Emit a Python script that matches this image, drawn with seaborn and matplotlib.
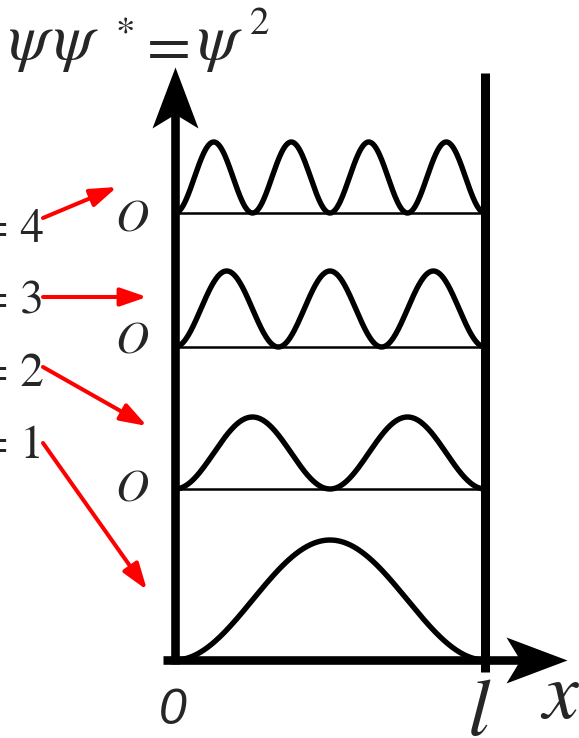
import numpy as np
import pandas as pd
import matplotlib
matplotlib.use("Agg")
import matplotlib.pyplot as plt
from matplotlib.path import Path
import seaborn as sns

sns.set_theme(style="white")

# ---- data ----
quantum_numbers = [1, 2, 3, 4]
baselines = [0, 171, 313, 447]          # vertical offset of each curve (px above x axis)
peak_heights = [120, 72, 76, 71]        # height of the |psi|^2 humps
level_labels = ["= 1", "= 2", "= 3", "= 4"]

W, H = 579, 738
fig = plt.figure(figsize=(W / 100, H / 100), dpi=100)
ax = fig.add_axes([0, 0, 1, 1])
X0, XL, Y0 = 175, 310, 660
ax.set_xlim(-X0 / XL, (W - X0) / XL)
ax.set_ylim(Y0 - H, Y0)
ax.axis("off")


def P(px, py):
    return (px - X0) / XL, Y0 - py


# probability densities psi^2 = sin^2(n pi x / l)
xs = np.linspace(0, 1, 400)
frames = []
for n, b, a in zip(quantum_numbers, baselines, peak_heights):
    frames.append(pd.DataFrame({"x": xs, "y": b + a * np.sin(n * np.pi * xs) ** 2, "n": n}))
df = pd.concat(frames, ignore_index=True)

# baselines of the excited states
ax.hlines(baselines[1:], 0, 1, color="black", lw=1.8, zorder=2)
sns.lineplot(data=df, x="x", y="y", units="n", estimator=None, color="black",
             lw=3.9, ax=ax, legend=False, zorder=3)

# axes and right wall
ax.plot([0, 0], [-4, 560], color="black", lw=6.2, solid_capstyle="butt", zorder=4)
ax.plot([-0.039, 1.22], [0, 0], color="black", lw=6.2, solid_capstyle="butt", zorder=4)
ax.plot([1, 1], [-12, 587], color="black", lw=6.5, solid_capstyle="butt", zorder=4)

up_head = Path([(0, 0), (-23, -61), (0, -47), (23, -61), (0, 0)],
               [Path.MOVETO, Path.LINETO, Path.LINETO, Path.LINETO, Path.CLOSEPOLY])
right_head = Path([(0, 0), (-61, 23), (-47, 0), (-61, -23), (0, 0)],
                  [Path.MOVETO, Path.LINETO, Path.LINETO, Path.LINETO, Path.CLOSEPOLY])
ms = 2 * 61 * 0.72
ax.plot(*P(175, 67), marker=up_head, ms=ms, color="black", mew=0, zorder=5)
ax.plot(*P(567, 660), marker=right_head, ms=ms, color="black", mew=0, zorder=5)

# title  ψψ* = ψ²
serif = "STIXGeneral"
ax.text(*P(8, 59), "ψ", fontsize=47, family=serif, style="italic", va="baseline", ha="left")
ax.text(*P(53, 59), "ψ", fontsize=47, family=serif, style="italic", va="baseline", ha="left")
ax.text(*P(125, 45), "*", fontsize=28, family=serif, va="baseline", ha="center")
ax.text(*P(169, 66), "=", fontsize=46, family=serif, va="baseline", ha="center")
ax.text(*P(197, 59), "ψ", fontsize=47, family=serif, style="italic", va="baseline", ha="left")
ax.text(*P(260, 34), "2", fontsize=28, family=serif, va="baseline", ha="center")

# quantum-number labels with red arrows
label_base = [458, 386, 313, 242]
arrow_start = [(43, 443), (43, 367), (43, 297), (43, 218)]
arrow_tip = [(147, 590), (147, 426), (147, 297), (117, 187)]
for lab, yb, s, t in zip(level_labels, label_base, arrow_start, arrow_tip):
    ax.text(*P(44, yb), lab, fontsize=34, family=serif, va="baseline", ha="right")
    ax.annotate("", xy=P(*t), xytext=P(*s),
                arrowprops=dict(arrowstyle="-|>,head_length=16,head_width=5.5",
                                mutation_scale=1, color="red", lw=2.9,
                                shrinkA=0, shrinkB=0))

# origin marks of the shifted curves
for yb in [232, 353, 502]:
    ax.text(*P(132, yb), "O", fontsize=33, family=serif, style="italic",
            va="baseline", ha="center")

ax.text(*P(173, 724), "0", fontsize=36, family="Liberation Sans", style="italic",
        va="baseline", ha="center")
ax.text(*P(479, 735), "l", fontsize=58, family=serif, style="italic",
        va="baseline", ha="center")
ax.text(*P(560, 718), "x", fontsize=58, family=serif, style="italic",
        va="baseline", ha="center")

fig.savefig("out.png", dpi=100)
